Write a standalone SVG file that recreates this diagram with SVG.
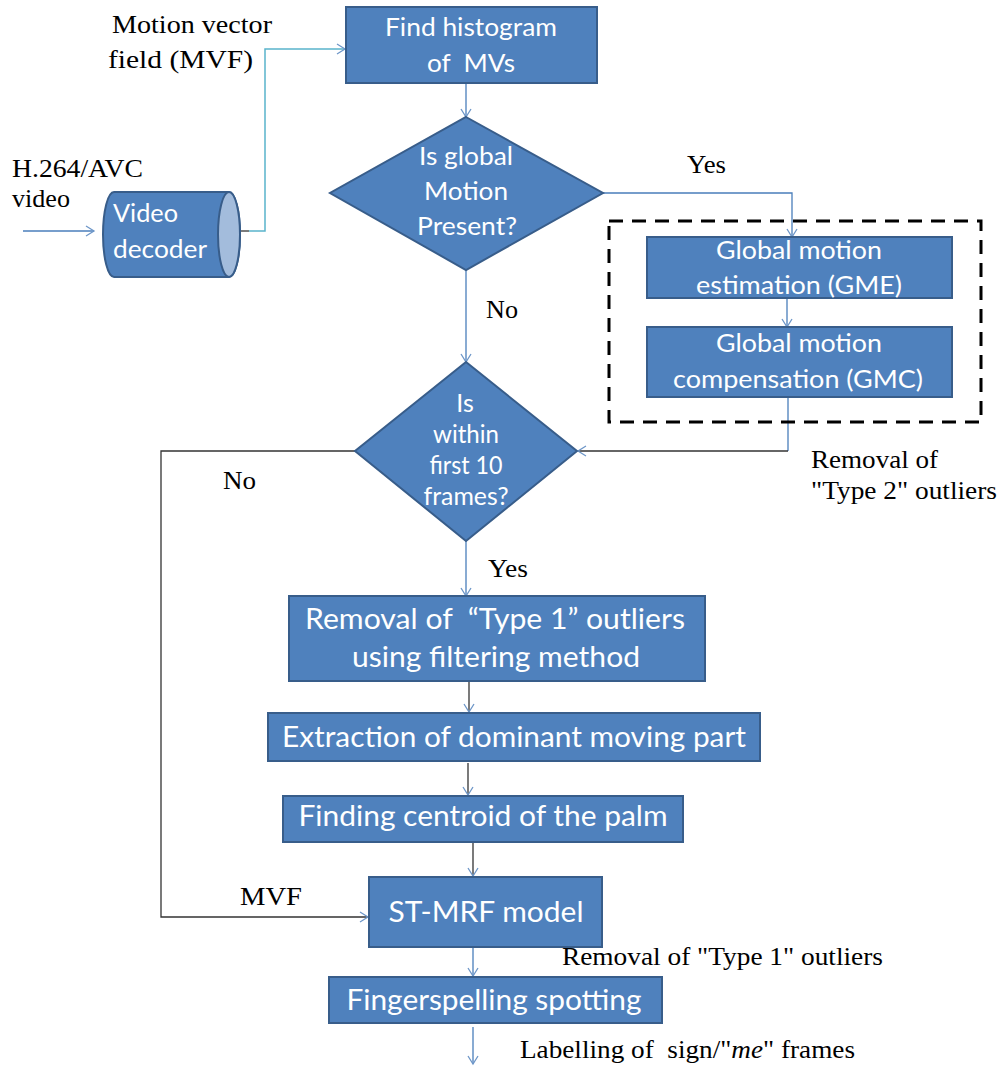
<svg xmlns="http://www.w3.org/2000/svg" width="1000" height="1069" viewBox="0 0 1000 1069">
  <style>
    .box { fill: #4f81bd; stroke: #385d8a; stroke-width: 2; }
    .cap { fill: #a3bcdc; stroke: #385d8a; stroke-width: 2; }
    .bt { font-family: Lato, "Open Sans", sans-serif; font-size: 25px; fill: #ffffff; text-anchor: middle; }
    .big { font-size: 28px; }
    .lbl { font-family: "Liberation Serif", "Times New Roman", serif; font-size: 25px; fill: #000000; }
    .ln { fill: none; stroke: #4a7ebb; stroke-width: 1.3; }
    .lk { fill: none; stroke: #333333; stroke-width: 1.3; }
    .lc { fill: none; stroke: #5ab4cb; stroke-width: 1.5; }
    .dash { fill: none; stroke: #000000; stroke-width: 3; stroke-dasharray: 14 9; }
  </style>
  <defs>
    <marker id="arr" markerUnits="userSpaceOnUse" markerWidth="12" markerHeight="12" refX="9" refY="6" orient="auto">
      <path d="M1,1 L9,6 L1,11" fill="none" stroke="#6d96c8" stroke-width="1.3"/>
    </marker>
  </defs>

  <!-- connectors -->
  <g id="connectors">
    <path class="ln" d="M23,231 H94" marker-end="url(#arr)"/>
    <path class="lk" d="M240,231 H249"/>
    <path class="lc" d="M249,231 H265 V49 H345" marker-end="url(#arr)"/>
    <path class="ln" d="M466,83 V117" marker-end="url(#arr)"/>
    <path class="ln" d="M603,193 H792 V237" marker-end="url(#arr)"/>
    <path class="ln" d="M787,298 V327" marker-end="url(#arr)"/>
    <path class="ln" d="M788,397 V451"/>
    <path class="lk" d="M788,451 H578" marker-end="url(#arr)"/>
    <path class="ln" d="M466,270 V362" marker-end="url(#arr)"/>
    <path class="lk" d="M355,451 H161 V917 H368" marker-end="url(#arr)"/>
    <path class="ln" d="M466,541 V596" marker-end="url(#arr)"/>
    <path class="lk" d="M469,681 V712" marker-end="url(#arr)"/>
    <path class="lk" d="M468,763 V795" marker-end="url(#arr)"/>
    <path class="lk" d="M473,842 V876" marker-end="url(#arr)"/>
    <path class="ln" d="M473,947 V976" marker-end="url(#arr)"/>
    <path class="ln" d="M473,1027 V1064" marker-end="url(#arr)"/>
  </g>

  <!-- dashed grouping frame around the global motion steps -->
  <rect id="gm-frame" class="dash" x="609" y="221" width="372" height="201"/>

  <g id="histogram">
    <rect class="box" x="346" y="7" width="251" height="76"/>
    <text class="bt" x="471" y="36" textLength="172" lengthAdjust="spacingAndGlyphs">Find histogram</text>
    <text class="bt" x="471" y="72" textLength="88" lengthAdjust="spacingAndGlyphs" xml:space="preserve">of  MVs</text>
  </g>

  <g id="decoder">
    <path class="box" d="M114,192 H229 A11,42.5 0 0 1 229,277 H114 A11,42.5 0 0 1 114,192 Z"/>
    <ellipse class="cap" cx="229" cy="234.5" rx="11" ry="42.5"/>
    <text class="bt" x="113" y="222" style="text-anchor:start" textLength="65" lengthAdjust="spacingAndGlyphs">Video</text>
    <text class="bt" x="113" y="258" style="text-anchor:start" textLength="94" lengthAdjust="spacingAndGlyphs">decoder</text>
  </g>

  <g id="global-motion-check">
    <polygon class="box" points="466,117 603,193 466,270 330,193"/>
    <text class="bt" x="466" y="165" textLength="94" lengthAdjust="spacingAndGlyphs">Is global</text>
    <text class="bt" x="466" y="200" textLength="84" lengthAdjust="spacingAndGlyphs">Motion</text>
    <text class="bt" x="467" y="235" textLength="100" lengthAdjust="spacingAndGlyphs">Present?</text>
  </g>

  <g id="gme">
    <rect class="box" x="647" y="237" width="305" height="61"/>
    <text class="bt" x="799" y="259" textLength="166" lengthAdjust="spacingAndGlyphs">Global motion</text>
    <text class="bt" x="799" y="294" textLength="206" lengthAdjust="spacingAndGlyphs">estimation (GME)</text>
  </g>

  <g id="gmc">
    <rect class="box" x="647" y="327" width="305" height="70"/>
    <text class="bt" x="799" y="352" textLength="166" lengthAdjust="spacingAndGlyphs">Global motion</text>
    <text class="bt" x="798" y="388" textLength="250" lengthAdjust="spacingAndGlyphs">compensation (GMC)</text>
  </g>

  <g id="frame-check">
    <polygon class="box" points="466,362 577,451 466,541 355,451"/>
    <text class="bt" x="465" y="412">Is</text>
    <text class="bt" x="466" y="443" textLength="66" lengthAdjust="spacingAndGlyphs">within</text>
    <text class="bt" x="466" y="474" textLength="73" lengthAdjust="spacingAndGlyphs">first 10</text>
    <text class="bt" x="466" y="505" textLength="85" lengthAdjust="spacingAndGlyphs">frames?</text>
  </g>

  <g id="type1-filter">
    <rect class="box" x="289" y="596" width="416" height="85"/>
    <text class="bt big" x="495" y="629" textLength="380" lengthAdjust="spacingAndGlyphs" xml:space="preserve">Removal of  “Type 1” outliers</text>
    <text class="bt big" x="496" y="667" textLength="288" lengthAdjust="spacingAndGlyphs">using filtering method</text>
  </g>

  <g id="dominant-part">
    <rect class="box" x="268" y="713" width="492" height="48"/>
    <text class="bt big" x="514" y="747" textLength="464" lengthAdjust="spacingAndGlyphs">Extraction of dominant moving part</text>
  </g>

  <g id="palm-centroid">
    <rect class="box" x="283" y="796" width="400" height="46"/>
    <text class="bt big" x="483" y="826" textLength="369" lengthAdjust="spacingAndGlyphs">Finding centroid of the palm</text>
  </g>

  <g id="st-mrf">
    <rect class="box" x="369" y="877" width="233" height="70"/>
    <text class="bt big" x="486" y="922" textLength="195" lengthAdjust="spacingAndGlyphs">ST-MRF model</text>
  </g>

  <g id="spotting">
    <rect class="box" x="329" y="977" width="333" height="46"/>
    <text class="bt big" x="494" y="1010" textLength="295" lengthAdjust="spacingAndGlyphs">Fingerspelling spotting</text>
  </g>

  <!-- free labels -->
  <g id="labels">
    <text class="lbl" x="112" y="33" font-size="27" textLength="160" lengthAdjust="spacingAndGlyphs">Motion vector</text>
    <text class="lbl" x="108" y="68" font-size="29" textLength="145" lengthAdjust="spacingAndGlyphs">field (MVF)</text>
    <text class="lbl" x="12" y="177" textLength="131" lengthAdjust="spacingAndGlyphs">H.264/AVC</text>
    <text class="lbl" x="12" y="207" textLength="58" lengthAdjust="spacingAndGlyphs">video</text>
    <text class="lbl" x="687" y="173" textLength="39" lengthAdjust="spacingAndGlyphs">Yes</text>
    <text class="lbl" x="486" y="318" textLength="32" lengthAdjust="spacingAndGlyphs">No</text>
    <text class="lbl" x="223" y="489" textLength="33" lengthAdjust="spacingAndGlyphs">No</text>
    <text class="lbl" x="488" y="577" textLength="40" lengthAdjust="spacingAndGlyphs">Yes</text>
    <text class="lbl" x="811" y="468" textLength="127" lengthAdjust="spacingAndGlyphs">Removal of</text>
    <text class="lbl" x="811" y="499" textLength="186" lengthAdjust="spacingAndGlyphs">"Type 2" outliers</text>
    <text class="lbl" x="240" y="905" textLength="62" lengthAdjust="spacingAndGlyphs">MVF</text>
    <text class="lbl" x="562" y="965" textLength="321" lengthAdjust="spacingAndGlyphs">Removal of "Type 1" outliers</text>
    <text class="lbl" x="520" y="1058" textLength="335" lengthAdjust="spacingAndGlyphs" xml:space="preserve">Labelling of  sign/"<tspan font-style="italic">me</tspan>" frames</text>
  </g>
</svg>
